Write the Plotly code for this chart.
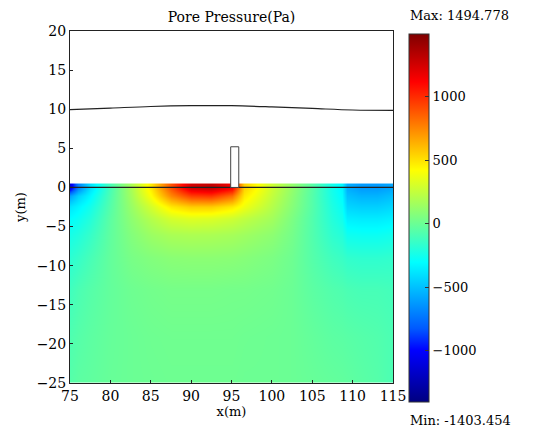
import plotly.graph_objects as go

# ---- data ----
x_grid = [75, 76, 77.5, 80, 82.5, 85, 87.5, 90, 92.5, 95, 96.5, 100, 102.5, 105, 107.5, 108.7, 109.3, 111, 113, 115]
y_grid = [0, -1, -2.5, -4, -6, -9, -13, -19, -25]
pressure = [
    [-1100, -700, -400, -100, 180, 480, 900, 1250, 1300, 1150, 550, 280, 120, -50, -250, -330, -560, -620, -620, -580],
    [-600, -450, -320, -80, 160, 420, 750, 950, 980, 820, 480, 250, 100, -60, -240, -310, -500, -540, -540, -500],
    [-380, -330, -250, -60, 130, 300, 480, 560, 560, 480, 380, 210, 80, -60, -220, -280, -430, -450, -450, -420],
    [-300, -270, -200, -40, 100, 210, 300, 330, 320, 280, 240, 160, 50, -70, -200, -250, -350, -360, -360, -340],
    [-240, -210, -150, -30, 70, 140, 180, 190, 185, 170, 150, 100, 30, -70, -170, -200, -260, -270, -270, -250],
    [-180, -150, -100, -20, 40, 70, 90, 95, 95, 90, 80, 50, 10, -60, -120, -140, -160, -170, -170, -160],
    [-120, -90, -60, -20, 10, 25, 35, 35, 35, 30, 30, 20, 0, -40, -70, -80, -90, -100, -100, -110],
    [-80, -60, -40, -15, 0, 10, 15, 15, 15, 15, 10, 5, 0, -20, -40, -45, -50, -60, -70, -90],
    [-60, -40, -30, -10, 0, 5, 10, 10, 10, 10, 5, 5, 0, -10, -20, -25, -30, -45, -60, -90],
]
p_min = -1403.454
p_max = 1494.778

wave_x = [75, 80, 85, 90, 95, 100, 105, 110, 115]
wave_y = [9.95, 10.15, 10.35, 10.45, 10.45, 10.3, 10.1, 9.9, 9.85]

struct_x = [94.9, 94.9, 95.9, 95.9, 94.9]
struct_y = [0, 5.2, 5.2, 0, 0]

x_ticks = [75, 80, 85, 90, 95, 100, 105, 110, 115]
y_ticks = [20, 15, 10, 5, 0, -5, -10, -15, -20, -25]
cb_ticks = [1000, 500, 0, -500, -1000]

jet = [
    [0.0, "rgb(0,0,128)"],
    [0.14, "rgb(0,0,255)"],
    [0.2, "rgb(0,90,255)"],
    [0.38, "rgb(0,255,255)"],
    [0.63, "rgb(255,255,0)"],
    [0.87, "rgb(255,0,0)"],
    [1.0, "rgb(128,0,0)"],
]

FONT = "DejaVu Serif"
OFF = 8  # page body margin offset
W, H = 536 - OFF, 435 - OFF
L, R, T, B = 70 - OFF, 536 - 393, 31 - OFF, 435 - 383
PH = H - T - B
PW = W - L - R

def px_x(p):  # reference pixel -> paper x
    return (p - OFF - L) / PW

def px_y(p):  # reference pixel -> paper y
    return (H - B - (p - OFF)) / PH

fig = go.Figure()
fig.add_trace(go.Heatmap(
    x=x_grid, y=y_grid, z=pressure,
    zmin=p_min, zmax=p_max, zsmooth="best",
    colorscale=jet,
    colorbar=dict(
        x=px_x(409), xanchor="left",
        y=px_y(34), yanchor="top",
        lenmode="pixels", len=368,
        thickness=20, thicknessmode="pixels",
        outlinewidth=1, outlinecolor="#333",
        tickvals=cb_ticks, ticks="inside", ticklen=4, tickcolor="#333",
        tickfont=dict(family=FONT, size=13, color="black"),
        xpad=0, ypad=0,
    ),
    hoverinfo="skip",
))
fig.add_trace(go.Scatter(
    x=[75, 115], y=[0, 0], mode="lines",
    line=dict(color="#222", width=1.2), showlegend=False, hoverinfo="skip"))
fig.add_trace(go.Scatter(
    x=wave_x, y=wave_y, mode="lines", line_shape="spline",
    line=dict(color="#222", width=1.2), showlegend=False, hoverinfo="skip"))
fig.add_trace(go.Scatter(
    x=struct_x, y=struct_y, mode="lines", fill="toself", fillcolor="white",
    line=dict(color="#444", width=1), showlegend=False, hoverinfo="skip"))

fig.update_layout(
    width=W, height=H,
    margin=dict(l=L, r=R, t=T, b=B, autoexpand=False),
    paper_bgcolor="white", plot_bgcolor="white",
    font=dict(family=FONT, size=13, color="black"),
    title=dict(text="Pore Pressure(Pa)", x=(231.5 - OFF) / W, xanchor="center",
               y=1 - (17 - OFF) / H, yanchor="middle", font=dict(family=FONT, size=14)),
    showlegend=False,
    annotations=[
        dict(text="Max: 1494.778", xref="paper", yref="paper", x=px_x(408), y=px_y(16),
             xanchor="left", yanchor="middle", showarrow=False, font=dict(family=FONT, size=13)),
        dict(text="Min: -1403.454", xref="paper", yref="paper", x=px_x(408), y=px_y(420),
             xanchor="left", yanchor="middle", showarrow=False, font=dict(family=FONT, size=13)),
    ],
)
fig.update_xaxes(
    range=[75, 115], tickvals=x_ticks, showgrid=False, zeroline=False,
    showline=True, linecolor="#222", linewidth=1, mirror=True,
    ticks="inside", ticklen=3, tickcolor="#222",
    tickfont=dict(family=FONT, size=14),
    title=dict(text="x(m)", standoff=2, font=dict(family=FONT, size=13)),
)
fig.update_yaxes(
    range=[-25, 20], tickvals=y_ticks, showgrid=False, zeroline=False,
    showline=True, linecolor="#222", linewidth=1, mirror=True,
    ticks="inside", ticklen=3, tickcolor="#222",
    tickfont=dict(family=FONT, size=14),
    title=dict(text="y(m)", standoff=8, font=dict(family=FONT, size=13)),
)

fig.write_html("out.html")
